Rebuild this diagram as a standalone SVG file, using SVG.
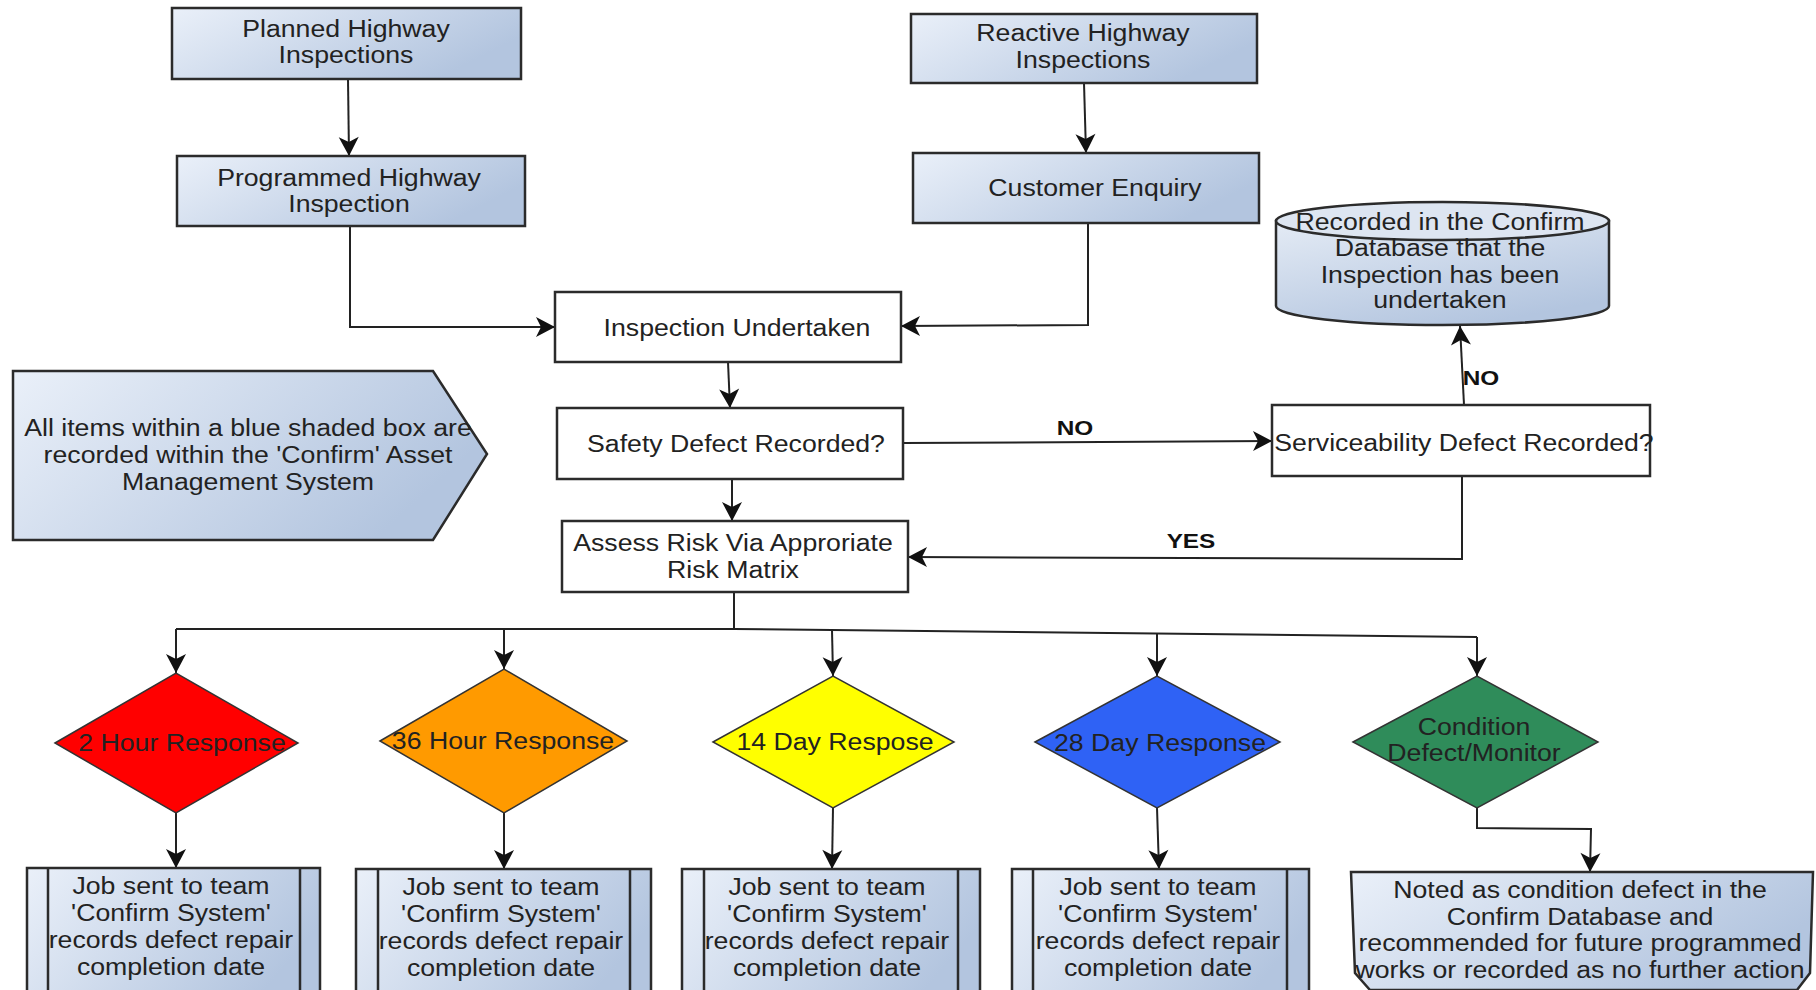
<svg xmlns="http://www.w3.org/2000/svg" width="1816" height="990" viewBox="0 0 1816 990">
<defs>
<linearGradient id="bg" x1="0" y1="0" x2="1" y2="0.4"><stop offset="0" stop-color="#eaf0f9"/><stop offset="1" stop-color="#b3c5df"/></linearGradient>
<linearGradient id="cyl" x1="0" y1="0" x2="0.6" y2="1"><stop offset="0" stop-color="#e4ebf5"/><stop offset="1" stop-color="#b3c5df"/></linearGradient>
<marker id="ah" viewBox="-1 -11 22 22" markerWidth="22" markerHeight="22" refX="19" refY="0" orient="auto" markerUnits="userSpaceOnUse"><path d="M0,-10 L19,0 L0,10 L5,0 Z" fill="#111"/></marker>
</defs>
<style>
.box{fill:url(#bg);stroke:#2b2b2b;stroke-width:2.5}
.wbox{fill:#fff;stroke:#2b2b2b;stroke-width:2.5}
.sl{stroke:#2b2b2b;stroke-width:2.5}
.t{font-family:"Liberation Sans",Arial,sans-serif;font-size:23px;fill:#222;text-anchor:middle}
.lb{font-family:"Liberation Sans",Arial,sans-serif;font-size:21px;font-weight:bold;fill:#111;text-anchor:middle}
.c{fill:none;stroke:#222;stroke-width:2}
.ca{fill:none;stroke:#222;stroke-width:2;marker-end:url(#ah)}
.dia{stroke:#333;stroke-width:1.5}
</style>
<rect width="1816" height="990" fill="#fff"/>

<g id="connectors">
<path class="ca" d="M348,79 L349,156"/>
<path class="ca" d="M1084,83 L1086,153"/>
<path class="ca" d="M350,226 L350,327 L555,327"/>
<path class="ca" d="M1088,222 L1088,325 L901,326"/>
<path class="ca" d="M728,362 L730,408"/>
<path class="ca" d="M903,443 L1272,441"/>
<path class="ca" d="M1464,405 L1460,326"/>
<path class="ca" d="M732,479 L732,521"/>
<path class="ca" d="M1462,476 L1462,559 L908,557"/>
<path class="c" d="M734,592 L734,629"/>
<path class="c" d="M176,629 L734,629 L1477,637"/>
<path class="ca" d="M176,629 L176,673"/>
<path class="ca" d="M504,629 L504,669"/>
<path class="ca" d="M832,630 L833,676"/>
<path class="ca" d="M1157,634 L1157,676"/>
<path class="ca" d="M1477,637 L1477,676"/>
<path class="ca" d="M176,813 L176,868"/>
<path class="ca" d="M504,813 L504,869"/>
<path class="ca" d="M833,808 L832,869"/>
<path class="ca" d="M1157,808 L1159,869"/>
<path class="ca" d="M1477,808 L1477,828 L1591,829 L1590,872"/>
<text class="lb" transform="matrix(1.16 0 0 1 1075 0)" x="0" y="435">NO</text>
<text class="lb" transform="matrix(1.16 0 0 1 1481 0)" x="0" y="385">NO</text>
<text class="lb" transform="matrix(1.16 0 0 1 1191 0)" x="0" y="548">YES</text>
</g>

<g id="planned">
<rect class="box" x="172" y="8" width="349" height="71"/>
<text class="t" transform="matrix(1.16 0 0 1 346 0)"><tspan x="0" y="37">Planned Highway</tspan><tspan x="0" y="63">Inspections</tspan></text>
</g>
<g id="programmed">
<rect class="box" x="177" y="156" width="348" height="70"/>
<text class="t" transform="matrix(1.16 0 0 1 349 0)"><tspan x="0" y="186">Programmed Highway</tspan><tspan x="0" y="212">Inspection</tspan></text>
</g>
<g id="reactive">
<rect class="box" x="911" y="14" width="346" height="69"/>
<text class="t" transform="matrix(1.16 0 0 1 1083 0)"><tspan x="0" y="41">Reactive Highway</tspan><tspan x="0" y="68">Inspections</tspan></text>
</g>
<g id="customer">
<rect class="box" x="913" y="153" width="346" height="70"/>
<text class="t" transform="matrix(1.16 0 0 1 1095 0)"><tspan x="0" y="196">Customer Enquiry</tspan></text>
</g>
<g id="database">
<path d="M1276,221 L1276,306 A166.5,19 0 0 0 1609,306 L1609,221 Z" fill="url(#cyl)" stroke="#2b2b2b" stroke-width="2.5"/>
<ellipse cx="1442.5" cy="221" rx="166.5" ry="19" fill="#dde5f1" stroke="#2b2b2b" stroke-width="2.5"/>
<text class="t" transform="matrix(1.16 0 0 1 1440 0)"><tspan x="0" y="230">Recorded in the Confirm</tspan><tspan x="0" y="256">Database that the</tspan><tspan x="0" y="283">Inspection has been</tspan><tspan x="0" y="308">undertaken</tspan></text>
</g>
<g id="inspection">
<rect class="wbox" x="555" y="292" width="346" height="70"/>
<text class="t" transform="matrix(1.16 0 0 1 737 0)"><tspan x="0" y="336">Inspection Undertaken</tspan></text>
</g>
<g id="safety">
<rect class="wbox" x="557" y="408" width="346" height="71"/>
<text class="t" transform="matrix(1.16 0 0 1 736 0)"><tspan x="0" y="452">Safety Defect Recorded?</tspan></text>
</g>
<g id="serviceability">
<rect class="wbox" x="1272" y="405" width="378" height="71"/>
<text class="t" transform="matrix(1.16 0 0 1 1464 0)"><tspan x="0" y="451">Serviceability Defect Recorded?</tspan></text>
</g>
<g id="assess">
<rect class="wbox" x="562" y="521" width="346" height="71"/>
<text class="t" transform="matrix(1.16 0 0 1 733 0)"><tspan x="0" y="551">Assess Risk Via Approriate</tspan><tspan x="0" y="578">Risk Matrix</tspan></text>
</g>
<g id="legend">
<polygon class="box" points="13,371 433,371 487,454 433,540 13,540"/>
<text class="t" transform="matrix(1.16 0 0 1 248 0)"><tspan x="0" y="436">All items within a blue shaded box are</tspan><tspan x="0" y="463">recorded within the 'Confirm' Asset</tspan><tspan x="0" y="490">Management System</tspan></text>
</g>

<g id="d2hour">
<polygon class="dia" fill="#ff0000" points="55,743 176,673 298,743 176,813"/>
<text class="t" transform="matrix(1.16 0 0 1 182 0)"><tspan x="0" y="751">2 Hour Response</tspan></text>
</g>
<g id="d36hour">
<polygon class="dia" fill="#ff9a00" points="380,741 504,669 627,741 504,813"/>
<text class="t" transform="matrix(1.16 0 0 1 503 0)"><tspan x="0" y="749">36 Hour Response</tspan></text>
</g>
<g id="d14day">
<polygon class="dia" fill="#ffff00" points="713,742 833,676 954,742 833,808"/>
<text class="t" transform="matrix(1.16 0 0 1 835 0)"><tspan x="0" y="750">14 Day Respose</tspan></text>
</g>
<g id="d28day">
<polygon class="dia" fill="#2f62f5" points="1035,742 1157,676 1280,742 1157,808"/>
<text class="t" transform="matrix(1.16 0 0 1 1160 0)"><tspan x="0" y="751">28 Day Response</tspan></text>
</g>
<g id="dcondition">
<polygon class="dia" fill="#2f8c5a" points="1353,742 1477,676 1598,742 1477,808"/>
<text class="t" transform="matrix(1.16 0 0 1 1474 0)"><tspan x="0" y="735">Condition</tspan><tspan x="0" y="761">Defect/Monitor</tspan></text>
</g>

<g id="job1">
<rect class="box" x="27" y="868" width="293" height="140"/>
<line class="sl" x1="48" y1="868" x2="48" y2="1008"/><line class="sl" x1="300" y1="868" x2="300" y2="1008"/>
<text class="t" transform="matrix(1.16 0 0 1 171 0)"><tspan x="0" y="894">Job sent to team</tspan><tspan x="0" y="921">'Confirm System'</tspan><tspan x="0" y="948">records defect repair</tspan><tspan x="0" y="975">completion date</tspan></text>
</g>
<g id="job2">
<rect class="box" x="356" y="869" width="295" height="140"/>
<line class="sl" x1="378" y1="869" x2="378" y2="1009"/><line class="sl" x1="630" y1="869" x2="630" y2="1009"/>
<text class="t" transform="matrix(1.16 0 0 1 501 0)"><tspan x="0" y="895">Job sent to team</tspan><tspan x="0" y="922">'Confirm System'</tspan><tspan x="0" y="949">records defect repair</tspan><tspan x="0" y="976">completion date</tspan></text>
</g>
<g id="job3">
<rect class="box" x="682" y="869" width="298" height="140"/>
<line class="sl" x1="704" y1="869" x2="704" y2="1009"/><line class="sl" x1="958" y1="869" x2="958" y2="1009"/>
<text class="t" transform="matrix(1.16 0 0 1 827 0)"><tspan x="0" y="895">Job sent to team</tspan><tspan x="0" y="922">'Confirm System'</tspan><tspan x="0" y="949">records defect repair</tspan><tspan x="0" y="976">completion date</tspan></text>
</g>
<g id="job4">
<rect class="box" x="1012" y="869" width="297" height="140"/>
<line class="sl" x1="1033" y1="869" x2="1033" y2="1009"/><line class="sl" x1="1287" y1="869" x2="1287" y2="1009"/>
<text class="t" transform="matrix(1.16 0 0 1 1158 0)"><tspan x="0" y="895">Job sent to team</tspan><tspan x="0" y="922">'Confirm System'</tspan><tspan x="0" y="949">records defect repair</tspan><tspan x="0" y="976">completion date</tspan></text>
</g>
<g id="noted">
<polygon class="box" points="1351,872 1813,872 1810,973 1797,990 1370,990 1355,973"/>
<text class="t" transform="matrix(1.16 0 0 1 1580 0)"><tspan x="0" y="898">Noted as condition defect in the</tspan><tspan x="0" y="925">Confirm Database and</tspan><tspan x="0" y="951">recommended for future programmed</tspan><tspan x="0" y="978">works or recorded as no further action</tspan></text>
</g>
</svg>
